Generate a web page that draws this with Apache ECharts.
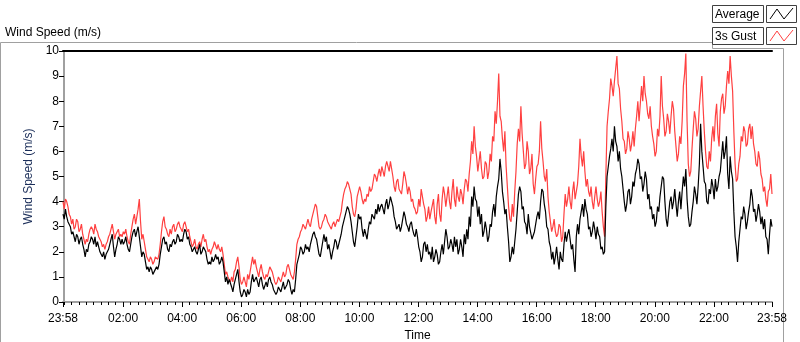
<!DOCTYPE html>
<html lang="en">
  <head>
    <meta charset="UTF-8" />
    <title>Wind Speed</title>
    <script src="https://cdn.jsdelivr.net/npm/echarts@6/dist/echarts.min.js"></script>
    <style>
      html, body { margin: 0; padding: 0; background: #fff; }
      #chart { width: 800px; height: 342px; }
    </style>
  </head>
  <body>
    <div id="chart"></div>
    <script>
      // minutes after midnight, first sample is 23:58 of the previous day
      var START = -2;
      var STEP = 2.5;

      // samples every 2.5 minutes, one row per hour
      var average = [
        3.5,3.3,3.7,3.4,3.2,3.1,3.0,2.7,2.8,2.6,2.4,2.7,2.6,2.3,2.5,2.6,2.3,2.1,1.8,2.1,2.0,2.3,2.4,2.6,
        2.5,2.3,2.6,2.2,2.4,2.2,2.0,1.9,1.8,2.0,1.7,1.9,1.9,2.1,2.3,2.5,2.7,2.2,1.8,2.1,2.3,2.6,2.5,2.3,
        2.5,2.3,2.4,2.6,2.3,2.1,2.0,2.3,2.6,2.8,2.9,2.6,2.8,3.0,2.6,2.2,1.8,2.0,1.9,1.6,1.3,1.4,1.2,1.4,
        1.3,1.1,1.2,1.3,1.4,1.3,1.5,1.9,2.2,2.5,2.6,2.3,2.4,2.1,2.0,2.3,2.2,2.4,2.5,2.3,2.4,2.7,2.6,2.4,
        2.5,2.4,2.7,2.9,2.8,2.5,2.6,2.3,2.2,2.0,2.1,2.2,2.0,1.9,2.1,2.3,1.9,2.0,2.2,2.1,2.0,1.7,1.5,1.6,
        1.5,1.8,1.6,1.7,1.9,1.7,1.8,1.5,1.6,1.8,1.6,1.2,0.8,1.0,0.7,0.9,0.9,0.6,0.4,0.7,0.9,1.1,1.3,0.8,
        0.4,0.2,0.3,0.5,0.4,0.2,0.5,0.3,0.4,0.8,1.1,0.8,0.9,1.0,0.8,0.6,0.9,1.0,0.7,0.5,0.5,0.8,0.6,0.9,
        1.0,0.8,0.7,0.5,0.5,0.3,0.4,0.6,0.5,0.4,0.6,0.8,0.5,0.6,0.7,0.9,0.8,0.5,0.3,0.5,0.4,0.9,1.5,1.7,
        1.9,2.2,2.1,1.9,2.0,2.3,2.1,2.2,2.0,2.3,2.5,2.7,2.8,2.6,2.5,2.2,1.9,1.8,2.1,2.4,2.7,2.4,2.6,2.1,
        2.3,2.0,1.7,2.0,2.2,2.5,2.4,2.1,2.3,2.5,2.7,3.0,3.2,3.4,3.6,3.8,3.7,3.5,3.2,2.8,2.4,2.2,2.6,3.0,
        3.5,3.3,3.4,2.9,2.6,2.9,2.7,2.5,2.9,3.2,3.1,3.5,3.4,3.3,3.7,3.5,3.9,3.6,3.8,3.9,3.7,3.5,3.9,4.1,
        3.7,3.9,4.2,4.0,3.8,3.4,3.2,2.9,2.9,3.1,2.8,3.0,3.3,3.6,3.4,3.1,3.0,2.8,3.1,3.2,2.9,2.7,2.6,2.9,
        2.6,2.2,2.0,1.6,1.8,2.3,2.4,2.0,2.3,1.9,2.0,1.7,2.2,1.6,1.8,2.1,1.9,1.5,1.6,2.0,2.3,1.9,2.4,2.9,
        2.6,2.1,2.2,2.5,2.3,2.0,2.6,2.2,2.5,1.9,2.1,2.5,2.2,1.8,2.7,2.3,2.9,2.5,3.4,3.0,4.2,3.8,4.6,4.1,
        4.0,3.4,3.8,3.1,3.5,2.6,2.8,3.2,2.9,2.4,2.6,3.1,3.0,3.6,3.9,3.4,4.2,4.6,4.9,5.7,5.2,4.4,4.0,3.5,
        3.7,3.0,2.4,1.6,1.8,2.2,1.9,2.4,2.9,3.6,4.3,4.6,4.4,3.7,3.8,3.2,3.1,2.7,3.5,3.0,3.0,2.5,2.5,2.8,
        3.1,3.4,3.6,3.3,4.0,4.5,4.4,3.9,3.6,3.0,2.9,2.4,2.2,1.7,2.0,1.5,1.8,2.2,1.7,1.3,2.0,1.7,1.6,2.3,
        2.8,2.4,2.7,2.9,2.5,2.1,2.3,1.7,1.2,2.6,3.1,2.7,3.3,3.6,3.9,3.4,4.1,3.7,3.5,2.9,3.0,2.6,2.8,3.2,
        2.9,2.5,3.0,2.7,2.6,2.1,2.2,1.9,2.0,3.8,5.0,5.4,5.8,6.1,6.5,6.0,7.0,6.4,6.2,5.6,6.0,5.3,5.0,4.5,
        4.0,3.6,3.9,4.4,4.5,3.9,4.2,4.8,4.6,5.1,5.3,5.7,5.5,4.9,5.0,4.4,4.7,5.2,4.9,4.1,4.3,3.7,3.8,3.3,
        3.5,3.0,3.2,3.8,3.6,4.2,4.6,5.0,4.9,4.0,3.3,3.0,3.5,4.0,4.2,3.7,4.0,4.5,3.9,3.4,4.0,4.4,3.7,4.4,
        5.0,4.6,5.3,4.1,3.4,3.0,3.1,3.6,4.0,4.6,4.3,3.9,4.6,5.5,7.1,6.0,5.4,4.8,4.7,4.0,3.9,4.5,4.3,4.9,
        4.6,4.1,4.9,4.4,4.6,5.0,5.2,5.8,6.4,5.7,6.0,6.6,5.1,4.5,5.8,5.2,4.9,3.6,2.6,2.2,1.6,2.4,2.9,3.4,
        3.3,3.8,3.5,2.9,3.2,3.6,3.9,4.5,4.2,3.6,3.7,3.2,3.5,3.9,3.6,3.1,3.4,2.9,3.3,2.6,2.5,1.9,2.7,3.3,
        3.0
      ];

      var gust = [
        4.0,3.7,4.1,4.0,3.8,3.5,3.4,3.1,3.3,2.9,3.0,3.3,3.2,2.8,2.9,3.1,2.7,2.5,2.3,2.5,2.4,2.7,2.9,3.0,
        2.9,2.7,3.1,2.9,2.8,2.6,2.6,2.4,2.2,2.3,2.1,2.3,2.4,2.6,2.7,2.9,3.1,2.8,2.5,2.7,2.8,2.9,2.6,2.7,
        2.6,2.8,2.7,2.9,2.6,2.4,2.3,2.7,3.0,3.3,3.5,3.1,3.4,3.7,4.1,3.2,2.5,2.7,2.4,2.1,1.8,1.7,1.6,1.8,
        1.7,1.5,1.6,1.8,1.8,1.7,1.9,2.3,2.8,3.2,3.4,3.0,2.9,2.7,2.6,2.9,2.7,3.0,3.1,2.8,2.9,3.1,3.2,3.0,
        3.0,2.8,3.1,3.2,3.0,2.8,2.9,2.6,2.4,2.2,2.3,2.5,2.2,2.1,2.3,2.4,2.2,2.5,2.7,2.4,2.5,2.2,2.0,2.1,
        1.9,2.1,2.2,2.4,2.4,2.1,2.3,2.1,2.0,2.2,1.9,1.5,1.1,1.2,1.0,0.9,0.8,1.0,0.8,1.2,1.3,1.6,1.8,1.4,
        0.9,0.7,0.8,1.0,0.8,0.6,1.1,0.9,1.2,1.5,1.8,1.5,1.7,1.4,1.2,1.0,1.3,1.5,1.2,1.0,0.9,1.1,1.0,1.2,
        1.4,1.3,1.2,1.0,0.8,0.7,0.8,1.0,0.9,0.8,1.0,1.2,1.0,1.1,1.4,1.5,1.3,1.1,1.0,0.9,1.2,1.7,2.3,2.5,
        2.6,2.8,2.9,3.1,3.0,2.9,3.1,3.3,3.1,3.0,3.3,3.5,3.7,3.9,3.8,3.4,3.0,2.9,3.0,3.2,3.3,3.5,3.4,3.2,
        3.2,3.0,2.9,3.1,3.2,3.0,3.0,3.3,3.2,3.4,3.6,4.0,4.3,4.5,4.6,4.8,4.7,4.5,4.3,3.8,3.5,3.4,3.7,4.2,
        4.4,4.6,4.4,4.1,3.9,4.1,4.0,4.3,4.2,4.6,4.4,4.5,4.8,5.1,5.0,4.8,5.1,5.3,5.0,5.4,5.2,5.0,5.4,5.6,
        5.4,5.2,5.6,5.3,5.0,4.6,4.4,4.8,4.9,4.5,4.5,4.3,4.7,5.2,5.0,4.7,4.3,4.6,4.4,4.0,4.1,3.8,3.7,3.5,
        3.6,4.1,3.8,4.5,4.5,3.9,3.7,3.2,3.4,3.8,3.3,3.6,3.6,4.1,3.4,3.1,3.9,4.3,3.5,3.2,4.1,4.6,4.3,3.8,
        4.2,4.6,4.0,3.7,4.4,4.9,4.1,3.8,4.6,4.2,4.0,4.5,4.3,3.9,4.5,4.9,4.8,4.4,5.1,5.6,6.4,5.9,7.0,6.2,
        5.8,5.2,5.6,6.0,5.3,4.9,5.0,5.6,5.5,4.9,5.2,5.9,5.6,6.6,6.4,7.6,7.1,8.0,9.1,7.4,7.2,6.5,6.0,6.8,
        5.4,4.6,3.8,3.3,3.2,3.9,3.4,4.4,5.2,6.3,6.9,6.4,7.8,6.7,6.0,5.3,5.5,6.4,6.0,5.1,5.3,5.9,4.7,4.3,
        4.9,5.4,5.5,6.0,7.2,6.1,5.6,5.0,4.8,5.3,4.2,3.6,3.2,2.8,3.0,3.3,2.8,2.6,2.7,3.1,3.0,2.4,2.6,3.5,
        4.3,3.8,4.1,4.6,4.0,3.7,4.4,4.8,4.1,4.4,4.7,5.4,6.5,5.8,5.4,6.0,5.2,4.6,4.9,4.4,4.2,4.6,4.0,3.7,
        4.2,4.6,4.1,3.8,4.0,4.4,3.6,3.0,2.6,5.0,7.0,7.6,8.1,8.9,8.6,8.2,8.8,9.3,9.8,8.7,8.5,7.7,7.2,6.5,
        6.4,5.9,6.1,6.8,6.5,6.0,6.3,6.8,6.2,6.9,7.4,8.0,7.2,7.9,8.6,8.0,9.0,8.3,8.0,7.5,7.3,7.8,7.0,6.6,
        6.3,5.8,6.0,6.9,6.6,7.4,9.0,7.8,7.3,6.6,6.8,7.5,7.2,6.7,7.4,8.0,7.7,6.8,6.2,5.6,5.9,6.6,6.3,7.2,
        8.6,9.1,9.9,7.2,5.5,5.0,5.2,6.1,6.9,7.6,7.3,6.6,6.9,7.8,8.4,9.0,7.8,6.8,6.0,5.4,5.3,6.0,5.6,6.5,
        7.0,6.4,7.4,7.9,6.7,6.2,7.6,8.1,8.3,7.5,7.8,8.6,9.2,8.7,9.8,9.0,8.4,6.8,5.5,4.8,4.9,5.5,5.8,6.6,
        6.4,7.0,6.8,6.2,6.3,6.9,7.1,6.5,7.0,6.3,6.0,5.5,5.4,6.0,5.7,5.1,4.9,4.4,4.6,4.1,3.8,4.4,4.5,5.1,
        4.3
      ];

      // axis marks, in minutes after midnight
      var majorTicks = [-2, 120, 240, 360, 480, 600, 720, 840, 960, 1080, 1200, 1320, 1438];
      var minorTicks = [];
      for (var m = 0; m < 1440; m += 15) minorTicks.push(m);

      var seriesNames = ["Average", "3s Gust"];
      var seriesColors = ["#000000", "#ff4040"];

      function toPairs(arr) {
        return arr.map(function (v, i) {
          return [START + i * STEP, v];
        });
      }

      function clock(v) {
        var t = ((v % 1440) + 1440) % 1440;
        var h = Math.floor(t / 60);
        var mm = Math.round(t % 60);
        return (h < 10 ? "0" : "") + h + ":" + (mm < 10 ? "0" : "") + mm;
      }

      var FONT = "'Liberation Sans', Arial, sans-serif";
      var GRAY = "#a0a0a0";

      var chart = echarts.init(document.getElementById("chart"), null, { renderer: "canvas" });

      // legend boxes like the LabVIEW plot legend
      var legendGraphics = [];
      seriesNames.forEach(function (name, k) {
        var top = 5 + k * 22;
        legendGraphics.push({
          type: "rect",
          shape: { x: 712.5, y: top + 0.5, width: 51, height: 17 },
          style: { fill: "#fff", stroke: "#404040", lineWidth: 1 },
        });
        legendGraphics.push({
          type: "text",
          style: {
            x: 715, y: top + 9.5, text: name, fill: "#000",
            font: "12px " + FONT, textVerticalAlign: "middle",
          },
        });
        legendGraphics.push({
          type: "rect",
          shape: { x: 766.5, y: top + 0.5, width: 30, height: 17 },
          style: { fill: "#fff", stroke: "#404040", lineWidth: 1 },
        });
        legendGraphics.push({
          type: "polyline",
          shape: { points: [[770, top + 14], [777, top + 4], [784, top + 14], [793, top + 3]] },
          style: { stroke: seriesColors[k], lineWidth: 1, fill: null },
        });
      });

      var option = {
        animation: false,
        backgroundColor: "#fff",
        title: {
          text: "Wind Speed (m/s)",
          left: 0,
          top: 22,
          textStyle: { fontFamily: FONT, fontSize: 12, fontWeight: "normal", color: "#000" },
        },
        graphic: [
          {
            type: "polyline",
            shape: { points: [[0.5, 342], [0.5, 42.5], [712.5, 42.5], [712.5, 48.5], [783.5, 48.5], [783.5, 342]] },
            style: { stroke: GRAY, lineWidth: 1, fill: null },
          },
        ].concat(legendGraphics),
        grid: { left: 63, top: 51, right: 28, bottom: 40, outerBoundsMode: "none", containLabel: false },
        xAxis: [
          {
            type: "value",
            position: "bottom",
            min: START,
            max: 1438,
            axisLine: { show: true, lineStyle: { color: GRAY, width: 2 } },
            axisTick: { show: true, customValues: majorTicks, length: 5, lineStyle: { color: "#000" } },
            axisLabel: {
              customValues: majorTicks,
              formatter: clock,
              color: "#000",
              fontFamily: FONT,
              fontSize: 12,
              margin: 11,
            },
            splitLine: { show: false },
            name: "Time",
            nameLocation: "middle",
            nameGap: 27,
            nameTextStyle: { color: "#000", fontFamily: FONT, fontSize: 12 },
          },
          {
            type: "value",
            position: "bottom",
            min: START,
            max: 1438,
            axisLine: { show: false },
            axisTick: { show: true, customValues: minorTicks, length: 3, lineStyle: { color: "#000" } },
            axisLabel: { show: false },
            splitLine: { show: false },
          },
          {
            type: "value",
            position: "top",
            min: START,
            max: 1438,
            axisLine: { show: true, lineStyle: { color: "#000", width: 2 } },
            axisTick: { show: false },
            axisLabel: { show: false },
            splitLine: { show: false },
          },
        ],
        yAxis: [
          {
            type: "value",
            position: "left",
            min: 0,
            max: 10,
            interval: 1,
            axisLine: { show: true, lineStyle: { color: "#000", width: 2 } },
            axisTick: { show: true, length: 5, lineStyle: { color: "#000" } },
            axisLabel: { color: "#000", fontFamily: FONT, fontSize: 12, margin: 4 },
            splitLine: { show: false },
            name: "Wind Speed (m/s)",
            nameLocation: "middle",
            nameRotate: 90,
            nameGap: 24,
            nameTextStyle: { color: "#1c2f5a", fontFamily: FONT, fontSize: 12 },
          },
          {
            type: "value",
            position: "right",
            min: 0,
            max: 10,
            axisLine: { show: true, lineStyle: { color: GRAY, width: 2 } },
            axisTick: { show: false },
            axisLabel: { show: false },
            splitLine: { show: false },
          },
        ],
        series: [
          {
            name: seriesNames[1],
            type: "line",
            data: toPairs(gust),
            showSymbol: false,
            lineStyle: { color: seriesColors[1], width: 1.2 },
            itemStyle: { color: seriesColors[1] },
          },
          {
            name: seriesNames[0],
            type: "line",
            data: toPairs(average),
            showSymbol: false,
            lineStyle: { color: seriesColors[0], width: 1.2 },
            itemStyle: { color: seriesColors[0] },
          },
        ],
      };

      chart.setOption(option);
    </script>
  </body>
</html>
